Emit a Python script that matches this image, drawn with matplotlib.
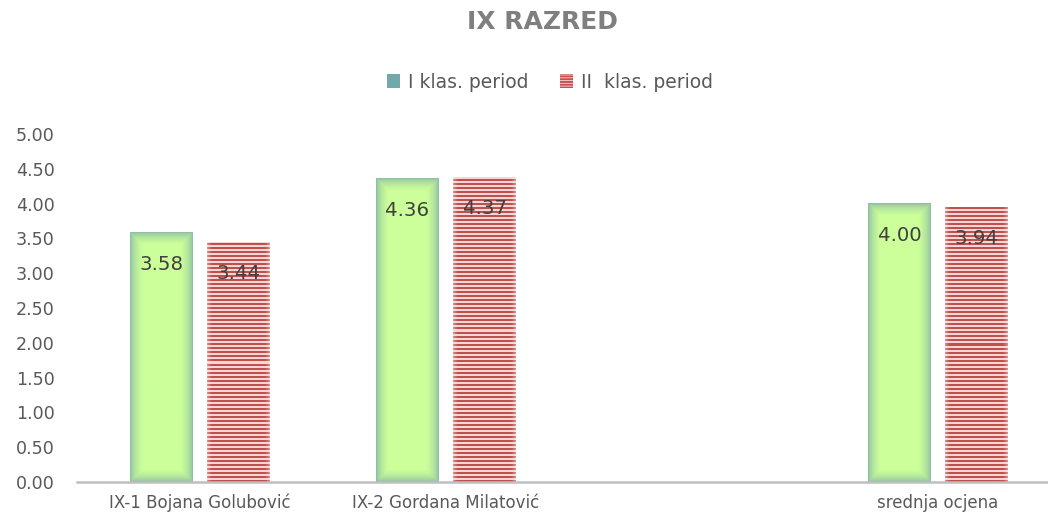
import numpy as np
import matplotlib
matplotlib.use("Agg")
import matplotlib.pyplot as plt
from matplotlib.patches import Patch
from matplotlib.colors import to_rgb
from matplotlib.transforms import blended_transform_factory, offset_copy

# ---- data ----
categories = ["IX-1 Bojana Golubović", "IX-2 Gordana Milatović", "", "srednja ocjena"]
series_names = ["I klas. period", "II  klas. period"]
period1 = [3.58, 4.36, np.nan, 4.00]
period2 = [3.44, 4.37, np.nan, 3.94]
title = "IX RAZRED"
yticks = [0, 0.5, 1, 1.5, 2, 2.5, 3, 3.5, 4, 4.5, 5]

W, H = 1048, 519
fig = plt.figure(figsize=(W / 100, H / 100), dpi=100)
ax = fig.add_axes([77 / W, 37 / H, 984 / W, 348 / H])
ax.set_xlim(-0.5, len(categories) - 0.5)
ax.set_ylim(0, 5)

bw = 0.256
off = 0.157
x = np.arange(len(categories))

green_in = np.array(to_rgb("#ccff99"))
green_edge = np.array(to_rgb("#7fb0a6"))
red_c = np.array(to_rgb("#c0504d"))
red_light = np.array(to_rgb("#f3d6d5"))

fig.canvas.draw()


def bar_pixels(xc, h):
    x0, x1 = xc - bw / 2, xc + bw / 2
    p0 = ax.transData.transform((x0, 0))
    p1 = ax.transData.transform((x1, h))
    wp = max(int(round(p1[0] - p0[0])), 2)
    hp = max(int(round(p1[1] - p0[1])), 2)
    yy, xx = np.mgrid[0:hp, 0:wp]
    return x0, x1, wp, hp, yy, xx


def gradient_bar(xc, h):
    x0, x1, wp, hp, yy, xx = bar_pixels(xc, h)
    d = np.minimum(np.minimum(xx + 0.5, wp - xx - 0.5),
                   np.minimum(yy + 0.5, hp - yy - 0.5))
    t = np.clip(d / 12.0, 0, 1) ** 0.5
    img = green_edge[None, None, :] + (green_in - green_edge)[None, None, :] * t[..., None]
    ax.imshow(img, extent=(x0, x1, 0, h), aspect="auto", origin="upper",
              interpolation="bilinear", zorder=2)


def striped_bar(xc, h):
    x0, x1, wp, hp, yy, xx = bar_pixels(xc, h)
    stripe = ((hp - 1 - yy) % 4) < 2
    base = np.where(stripe[..., None], red_c[None, None, :], red_light[None, None, :])
    dx = np.minimum(xx + 0.5, wp - xx - 0.5)
    fade = np.clip(dx / 5.0, 0, 1) ** 0.6
    white = np.array([0.98, 0.92, 0.92])
    img = white[None, None, :] + (base - white[None, None, :]) * (0.45 + 0.55 * fade[..., None])
    ax.imshow(img, extent=(x0, x1, 0, h), aspect="auto", origin="upper",
              interpolation="nearest", zorder=2)


label_color = "#404040"
for i, v in enumerate(period1):
    if np.isnan(v):
        continue
    gradient_bar(x[i] - off, v)
    ax.annotate(f"{v:.2f}", (x[i] - off, v), xytext=(0, -23), textcoords="offset points",
                ha="center", va="center", fontsize=14.2, color=label_color, zorder=5)

for i, v in enumerate(period2):
    if np.isnan(v):
        continue
    striped_bar(x[i] + off, v)
    ax.annotate(f"{v:.2f}", (x[i] + off, v), xytext=(0, -22), textcoords="offset points",
                ha="center", va="center", fontsize=14.2, color=label_color, zorder=5)

ax.set_xlim(-0.5, len(categories) - 0.5)
ax.set_ylim(0, 5)

# axes styling
for s in ["top", "right", "left"]:
    ax.spines[s].set_visible(False)
ax.spines["bottom"].set_color("#bfbfbf")
ax.spines["bottom"].set_linewidth(1.8)
ax.spines["bottom"].set_zorder(3)
ax.set_yticks(yticks)
ax.set_yticklabels([f"{t:.2f}" for t in yticks])
ax.tick_params(axis="y", length=0, pad=16, labelsize=12.6, labelcolor="#595959")
ax.set_xticks([])

# category labels with common baseline
tr = offset_copy(blended_transform_factory(ax.transData, ax.transAxes), fig=fig,
                 x=0, y=-26, units="dots")
for xi, lab in zip(x, categories):
    ax.text(xi, 0, lab, transform=tr, ha="center", va="baseline", fontsize=12,
            color="#595959", clip_on=False)
ax.set_facecolor("none")

fig.text(542 / W, 1 - 22 / H, title, ha="center", va="center", fontsize=18,
         fontweight="bold", color="#7f7f7f")

plt.rcParams["hatch.linewidth"] = 1.4
handles = [Patch(facecolor="#70a9aa", edgecolor="#70a9aa", linewidth=0),
           Patch(facecolor="#f4d9d8", edgecolor="#c9504e", hatch="------", linewidth=0)]
leg = fig.legend(handles, series_names, loc="center", bbox_to_anchor=(550 / W, 1 - 82 / H),
                 ncol=2, frameon=False, fontsize=13.5, handlelength=0.7, handleheight=0.7,
                 handletextpad=0.4, columnspacing=1.7, labelcolor="#595959")

fig.savefig("out.png", dpi=100)
